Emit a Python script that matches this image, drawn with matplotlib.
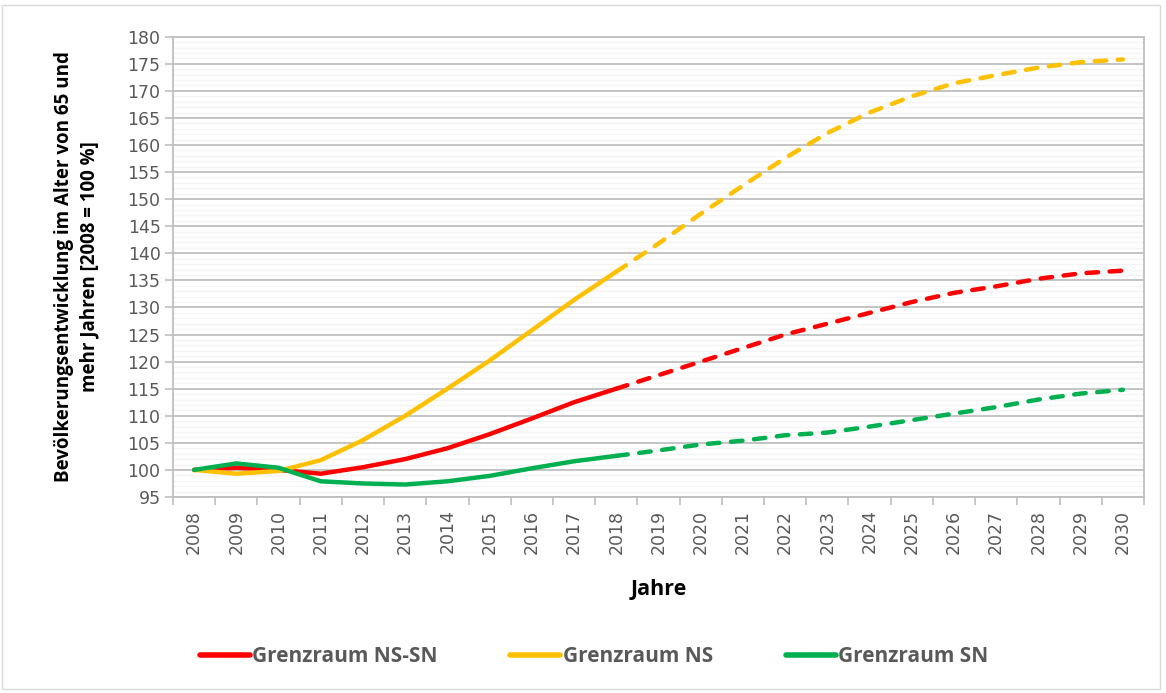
import matplotlib
matplotlib.use("Agg")
import matplotlib.pyplot as plt
from matplotlib.lines import Line2D
from matplotlib.patches import Rectangle
from matplotlib.ticker import MultipleLocator, FixedLocator

years = [str(y) for y in range(2008, 2031)]
ns_sn = [100.0, 100.4, 100.0, 99.3, 100.5, 102.0, 104.0, 106.6, 109.5, 112.5, 115.0,
         117.5, 120.0, 122.5, 125.0, 127.0, 129.0, 131.0, 132.7, 133.9, 135.3, 136.3, 136.8]
ns = [100.0, 99.3, 99.8, 101.8, 105.5, 110.0, 115.0, 120.2, 125.8, 131.4, 136.6,
      141.8, 147.3, 152.5, 157.6, 162.2, 166.0, 169.0, 171.4, 172.9, 174.3, 175.3, 175.8]
sn = [100.0, 101.2, 100.4, 97.9, 97.5, 97.3, 97.9, 98.9, 100.3, 101.6, 102.6,
      103.6, 104.7, 105.4, 106.4, 106.9, 108.0, 109.2, 110.4, 111.6, 113.0, 114.1, 114.8]

series = [("Grenzraum NS-SN", ns_sn, "#FF0000"),
          ("Grenzraum NS", ns, "#FFC000"),
          ("Grenzraum SN", sn, "#00B050")]
split = years.index("2018")

W, H = 1166, 693
fig = plt.figure(figsize=(W / 100, H / 100), dpi=100)
fig.patches.append(Rectangle((2 / W, 4 / H), 1 - 8 / W, 1 - 9 / H, transform=fig.transFigure,
                             fill=False, edgecolor="#D9D9D9", linewidth=1))
ax = fig.add_axes([173 / W, 1 - 497 / H, (1144 - 173) / W, (497 - 36.7) / H])

x = list(range(len(years)))
for label, vals, col in series:
    ax.plot(x[:split + 1], vals[:split + 1], color=col, lw=3.2, solid_capstyle="round",
            solid_joinstyle="round", zorder=3)
    ax.plot(x[split:], vals[split:], color=col, lw=3.2, dashes=(2.6, 2.6),
            dash_capstyle="round", zorder=3)

ax.set_xlim(-0.5, len(years) - 0.5)
ax.set_ylim(95, 180)
ax.yaxis.set_major_locator(MultipleLocator(5))
ax.yaxis.set_minor_locator(MultipleLocator(1))
ax.grid(which="major", axis="y", color="#BFBFBF", lw=1.3, zorder=1)
ax.grid(which="minor", axis="y", color="#F4F4F4", lw=1.0, zorder=0)
ax.tick_params(axis="y", which="minor", length=0)
ax.tick_params(axis="y", which="major", length=6, width=1.2, color="#BFBFBF",
               labelsize=12.5, labelcolor="#595959", pad=3)

ax.xaxis.set_major_locator(FixedLocator([i - 0.5 for i in range(len(years) + 1)]))
ax.xaxis.set_minor_locator(FixedLocator(x))
ax.set_xticklabels([])
ax.set_xticklabels(years, minor=True, rotation=90)
ax.tick_params(axis="x", which="major", length=6, width=1.2, color="#BFBFBF")
ax.tick_params(axis="x", which="minor", length=0, labelsize=12.5, labelcolor="#595959", pad=9)

for s in ax.spines.values():
    s.set_color("#BFBFBF")
    s.set_linewidth(1.3)

ax.set_xlabel("Jahre", fontsize=15.5, fontweight="bold", labelpad=18, family="Open Sans")
ax.set_ylabel("Bevölkerungsentwicklung im Alter von 65 und\nmehr Jahren [2008 = 100 %]",
              fontsize=13.5, fontweight="bold", labelpad=20, family="Open Sans",
              linespacing=1.4)

handles = [Line2D([], [], color=c, lw=4, solid_capstyle="round") for _, _, c in series]
leg = fig.legend(handles, [s[0] for s in series], loc="center", bbox_to_anchor=(594 / W, 1 - 657 / H),
                 ncol=3, frameon=False, handlelength=2.4, handletextpad=0.1, columnspacing=3.5,
                 prop={"family": "Open Sans", "weight": "bold", "size": 15})
for t in leg.get_texts():
    t.set_color("#595959")

fig.savefig("out.png", dpi=100)
